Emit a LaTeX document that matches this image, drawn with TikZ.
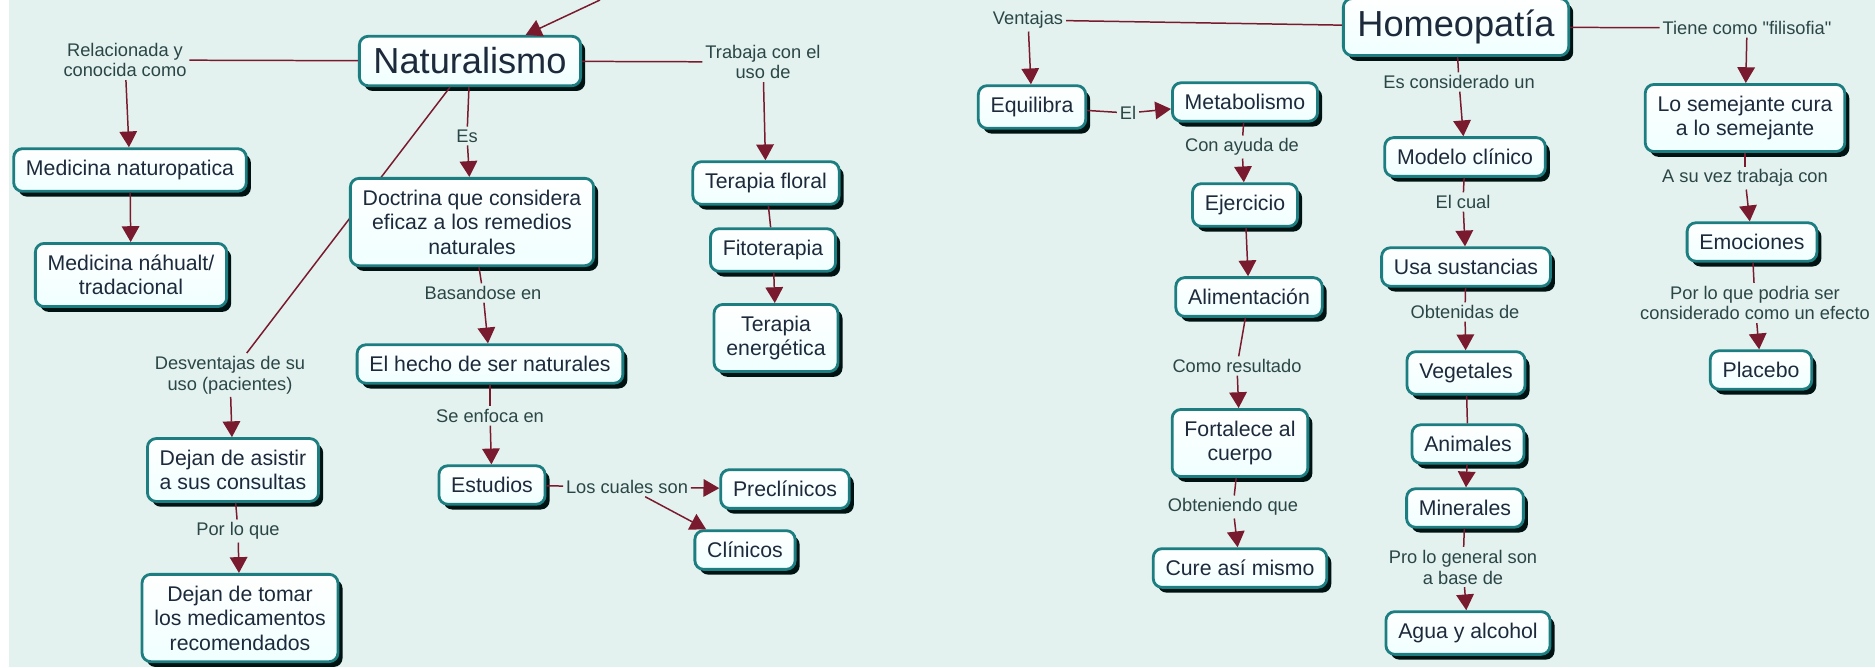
\documentclass[tikz,border=0pt]{standalone}
\usepackage{fontspec}
\setmainfont{Liberation Sans}
\newfontfamily\recta{Liberation Sans} % no TeX ligatures, keeps straight quotes
\usetikzlibrary{arrows.meta,shadows}

\definecolor{fondo}{HTML}{E3F2EF}
\definecolor{borde}{HTML}{1C7E80}
\definecolor{enlace}{HTML}{7A1A2E}
\definecolor{textoconcepto}{HTML}{1D2A3B}
\definecolor{textoenlace}{HTML}{2B4646}

\tikzset{
	concepto/.style={draw=borde, line width=1.6pt, rounded corners=5pt,
		top color=white, bottom color=cyan!6!white,
		drop shadow={shadow xshift=2.6pt, shadow yshift=-3pt, fill=black!85!teal, opacity=1},
		text=textoconcepto, font=\fontsize{12.1}{13.9}\selectfont, align=center,
		inner xsep=7pt, inner ysep=6.5pt},
	titulo/.style={concepto, font=\fontsize{20.6}{24}\selectfont, inner xsep=8pt},
	etiqueta/.style={text=textoenlace, font=\fontsize{10.4}{11.9}\selectfont, align=center, inner sep=1.5pt},
	linea/.style={draw=enlace, line width=0.85pt},
	flecha/.style={linea, -{Triangle[width=10pt,length=9pt]}}
}

\begin{document}
\begin{tikzpicture}[x=0.2mm, y=-0.2mm]
				% Background
				\useasboundingbox (0,0) rectangle (1875,667);
				\fill[white] (0,0) rectangle (9,667);
				\fill[fondo] (9,0) rectangle (1875,667);
				
				% Naturalismo
				\node[titulo] (nat) at (470,61) {Naturalismo};
				\coordinate (arriba) at (600,0); % comes from above the page
				\draw[flecha] (arriba) -- (nat);
				
				\node[etiqueta] (lblDesv) at (230,375) {Desventajas de su\\uso (pacientes)};
				\draw[linea] (nat) -- (lblDesv); % runs behind the doctrina box
				
				\node[etiqueta] (lblRel) at (125,60) {Relacionada y\\conocida como};
				\node[concepto] (medNat) at (130,170) {Medicina naturopatica};
				\node[concepto] (medNah) at (131,275) {Medicina náhualt/\\tradacional};
				
				\node[etiqueta] (lblTrab) at (763,62) {Trabaja con el\\uso de};
				\node[concepto] (terFlo) at (766,183) {Terapia floral};
				\node[concepto] (fito) at (773,250) {Fitoterapia};
				\node[concepto] (terEne) at (776,338) {Terapia\\energética};
				
				\node[etiqueta] (lblEs) at (467,136) {Es};
				\node[concepto] (doct) at (472,222) {Doctrina que considera\\eficaz a los remedios\\naturales};
				\node[etiqueta] (lblBas) at (483,293) {Basandose en};
				\node[concepto] (hecho) at (490,364) {El hecho de ser naturales};
				\node[etiqueta] (lblEnf) at (490,416) {Se enfoca en};
				\node[concepto] (estud) at (492,485) {Estudios};
				\node[etiqueta] (lblCual) at (627,487) {Los cuales son};
				\node[concepto] (precl) at (785,489) {Preclínicos};
				\node[concepto] (clin) at (745,550) {Clínicos};
				
				\node[concepto] (asist) at (233,470) {Dejan de asistir\\a sus consultas};
				\node[etiqueta] (lblPor) at (238,531) {Por lo que};
				\node[concepto] (tomar) at (240,618) {Dejan de tomar\\los medicamentos\\recomendados};
				
				% Homeopatia
				\node[titulo] (homeo) at (1456,27) {Homeopatía};
				
				\node[etiqueta] (lblVent) at (1028,20) {Ventajas};
				\node[concepto] (equil) at (1032,107) {Equilibra};
				\node[etiqueta] (lblEl) at (1128,113) {El};
				\node[concepto] (metab) at (1245,102) {Metabolismo};
				\node[etiqueta] (lblAyuda) at (1242,147) {Con ayuda de};
				\node[concepto] (ejer) at (1245,205) {Ejercicio};
				\node[concepto] (alim) at (1249,297) {Alimentación};
				\node[etiqueta] (lblRes) at (1237,366) {Como resultado};
				\node[concepto] (fort) at (1240,443) {Fortalece al\\cuerpo};
				\node[etiqueta] (lblObt) at (1233,507) {Obteniendo que};
				\node[concepto] (cure) at (1240,568) {Cure así mismo};
				
				\node[etiqueta] (lblCons) at (1459,82) {Es considerado un};
				\node[concepto] (modelo) at (1465,157) {Modelo clínico};
				\node[etiqueta] (lblCual2) at (1463,202) {El cual};
				\node[concepto] (usa) at (1466,267) {Usa sustancias};
				\node[etiqueta] (lblObten) at (1465,312) {Obtenidas de};
				\node[concepto] (veg) at (1466,373) {Vegetales};
				\node[concepto] (anim) at (1468,444) {Animales};
				\node[concepto] (miner) at (1465,508) {Minerales};
				\node[etiqueta] (lblPro) at (1463,567) {Pro lo general son\\a base de};
				\node[concepto] (agua) at (1468,633) {Agua y alcohol};
				
				\node[etiqueta] (lblTiene) at (1747,28) {Tiene como {\recta"}filisofia{\recta"}};
				\node[concepto] (semej) at (1745,118) {Lo semejante cura\\a lo semejante};
				\node[etiqueta] (lblVez) at (1745,178) {A su vez trabaja con};
				\node[concepto] (emoc) at (1752,242) {Emociones};
				\node[etiqueta] (lblPodria) at (1755,303) {Por lo que podria ser\\considerado como un efecto};
				\node[concepto] (placebo) at (1761,370) {Placebo};
				
				% Links, naturalismo side
				\draw[linea] (lblRel) -- (nat);
				\draw[flecha] (lblRel) -- (medNat);
				\draw[flecha] (medNat) -- (medNah);
				\draw[linea] (nat) -- (lblTrab);
				\draw[flecha] (lblTrab) -- (terFlo);
				\draw[linea] (terFlo) -- (fito);
				\draw[flecha] (fito) -- (terEne);
				\draw[linea] (nat) -- (lblEs);
				\draw[flecha] (lblEs) -- (doct);
				\draw[linea] (doct) -- (lblBas);
				\draw[flecha] (lblBas) -- (hecho);
				\draw[linea] (hecho) -- (lblEnf);
				\draw[flecha] (lblEnf) -- (estud);
				\draw[linea] (estud) -- (lblCual);
				\draw[flecha] (lblCual) -- (precl);
				\draw[flecha] (lblCual) -- (clin);
				\draw[flecha] (lblDesv) -- (asist);
				\draw[linea] (asist) -- (lblPor);
				\draw[flecha] (lblPor) -- (tomar);
				
				% Links, homeopatia side
				\draw[linea] (homeo) -- (lblVent);
				\draw[flecha] (lblVent) -- (equil);
				\draw[linea] (equil) -- (lblEl);
				\draw[flecha] (lblEl) -- (metab);
				\draw[linea] (metab) -- (lblAyuda);
				\draw[flecha] (lblAyuda) -- (ejer);
				\draw[flecha] (ejer) -- (alim);
				\draw[linea] (alim) -- (lblRes);
				\draw[flecha] (lblRes) -- (fort);
				\draw[linea] (fort) -- (lblObt);
				\draw[flecha] (lblObt) -- (cure);
				\draw[linea] (homeo) -- (lblCons);
				\draw[flecha] (lblCons) -- (modelo);
				\draw[linea] (modelo) -- (lblCual2);
				\draw[flecha] (lblCual2) -- (usa);
				\draw[linea] (usa) -- (lblObten);
				\draw[flecha] (lblObten) -- (veg);
				\draw[linea] (veg) -- (anim);
				\draw[flecha] (anim) -- (miner);
				\draw[linea] (miner) -- (lblPro);
				\draw[flecha] (lblPro) -- (agua);
				\draw[linea] (homeo) -- (lblTiene);
				\draw[flecha] (lblTiene) -- (semej);
				\draw[linea] (semej) -- (lblVez);
				\draw[flecha] (lblVez) -- (emoc);
				\draw[linea] (emoc) -- (lblPodria);
				\draw[flecha] (lblPodria) -- (placebo);
			\end{tikzpicture}
\end{document}
